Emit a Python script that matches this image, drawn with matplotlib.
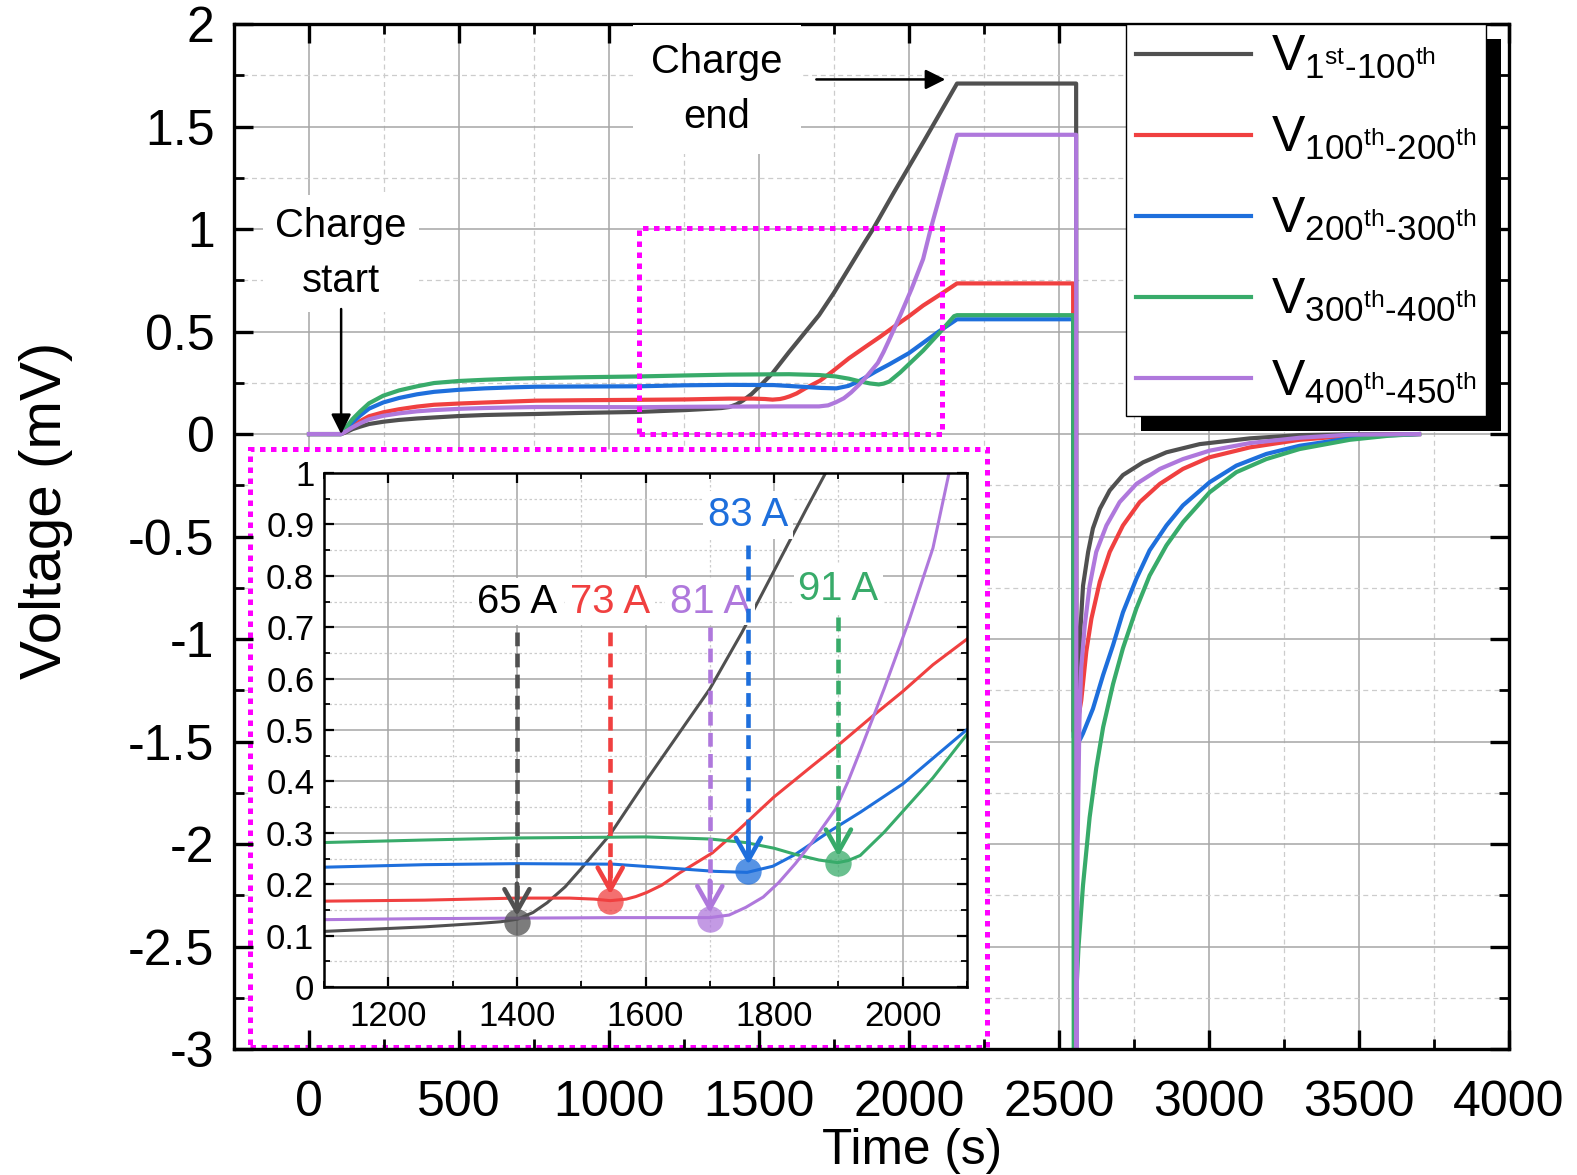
import numpy as np
import matplotlib
matplotlib.use('Agg')
import matplotlib.pyplot as plt
from matplotlib import font_manager
from matplotlib.patches import Rectangle
from matplotlib.ticker import MultipleLocator, FuncFormatter

plt.rcParams['font.family'] = ['Liberation Sans', 'DejaVu Sans']
plt.rcParams['axes.unicode_minus'] = False
plt.rcParams['mathtext.fontset'] = 'custom'
plt.rcParams['mathtext.rm'] = 'Liberation Sans'
plt.rcParams['mathtext.it'] = 'Liberation Sans'
plt.rcParams['mathtext.bf'] = 'Liberation Sans'
plt.rcParams['mathtext.default'] = 'regular'

_names = {f.name for f in font_manager.fontManager.ttflist}
if 'Liberation Sans Narrow' in _names:
    NARROW = ['Liberation Sans Narrow', 'DejaVu Sans']
    NS = 1.0
    LS = 1.45
else:
    NARROW = ['Liberation Sans', 'DejaVu Sans']
    NS = 0.85
    LS = 1.55

# ---------------- data ----------------
t_black = [0, 107, 125, 145, 170, 200, 247, 300, 360, 417, 500, 587, 680, 757, 900, 1097, 1256, 1344, 1375,
           1401, 1425, 1447, 1475, 1499, 1520, 1545, 1600, 1650, 1700, 1750, 1800, 1850, 1880, 1950, 2050,
           2160, 2557, 2558, 2565, 2571, 2580, 2597, 2613, 2636, 2669, 2713, 2780, 2858, 2969, 3136, 3302,
           3469, 3700]
v_black = [0, 0, 0.01, 0.024, 0.036, 0.049, 0.06, 0.069, 0.076, 0.081, 0.088, 0.093, 0.096, 0.098, 0.103,
           0.108, 0.117, 0.124, 0.127, 0.132, 0.145, 0.164, 0.195, 0.229, 0.26, 0.297, 0.40, 0.49, 0.58,
           0.69, 0.81, 0.93, 1.0, 1.18, 1.43, 1.71, 1.71, -1.30, -1.15, -0.96, -0.74, -0.575, -0.46,
           -0.365, -0.275, -0.20, -0.138, -0.089, -0.049, -0.021, -0.005, -0.001, 0]

t_red = [0, 107, 125, 145, 170, 200, 247, 300, 360, 417, 500, 587, 680, 757, 900, 1097, 1256, 1400, 1482,
         1520, 1545, 1570, 1585, 1602, 1625, 1653, 1704, 1745, 1800, 1859, 1904, 1956, 2000, 2047, 2099,
         2160, 2547, 2548, 2560, 2574, 2591, 2608, 2636, 2669, 2713, 2769, 2836, 2913, 3002, 3136, 3302,
         3469, 3700]
v_red = [0, 0, 0.018, 0.04, 0.063, 0.087, 0.106, 0.121, 0.134, 0.143, 0.149, 0.154, 0.159, 0.163, 0.165,
         0.167, 0.169, 0.173, 0.173, 0.171, 0.168, 0.171, 0.176, 0.184, 0.198, 0.222, 0.261, 0.306, 0.37,
         0.43, 0.475, 0.53, 0.575, 0.627, 0.676, 0.735, 0.735, -1.45, -1.42, -1.30, -1.06, -0.90, -0.72,
         -0.575, -0.446, -0.332, -0.243, -0.17, -0.113, -0.065, -0.028, -0.008, 0]

t_blue = [0, 107, 125, 145, 170, 200, 247, 300, 360, 417, 500, 587, 680, 757, 900, 1097, 1256, 1400, 1550,
          1653, 1708, 1758, 1798, 1833, 1889, 1934, 2000, 2047, 2099, 2160, 2547, 2549, 2570, 2580, 2613,
          2647, 2680, 2713, 2758, 2802, 2858, 2913, 3002, 3091, 3191, 3302, 3469, 3600, 3700]
v_blue = [0, 0, 0.027, 0.057, 0.09, 0.124, 0.154, 0.176, 0.194, 0.206, 0.216, 0.223, 0.228, 0.231, 0.232,
          0.233, 0.238, 0.24, 0.239, 0.23, 0.225, 0.223, 0.235, 0.258, 0.305, 0.34, 0.395, 0.445, 0.50,
          0.56, 0.56, -1.48, -1.49, -1.46, -1.34, -1.175, -1.03, -0.87, -0.705, -0.567, -0.446, -0.348,
          -0.235, -0.154, -0.097, -0.057, -0.021, -0.006, 0]

t_green = [0, 107, 125, 145, 170, 200, 247, 300, 360, 417, 500, 587, 680, 757, 900, 1097, 1256, 1400, 1600,
           1700, 1756, 1800, 1833, 1870, 1899, 1915, 1934, 1971, 2009, 2047, 2099, 2150, 2160, 2547, 2549,
           2565, 2580, 2602, 2624, 2647, 2680, 2713, 2758, 2802, 2858, 2913, 3002, 3091, 3191, 3302, 3469,
           3600, 3700]
v_green = [0, 0, 0.035, 0.073, 0.11, 0.15, 0.187, 0.213, 0.233, 0.249, 0.259, 0.265, 0.27, 0.273, 0.277,
           0.281, 0.286, 0.29, 0.292, 0.288, 0.281, 0.27, 0.258, 0.247, 0.242, 0.246, 0.256, 0.301, 0.354,
           0.407, 0.49, 0.575, 0.58, 0.58, -3.0, -2.5, -2.2, -1.87, -1.63, -1.43, -1.22, -1.045, -0.85,
           -0.69, -0.543, -0.43, -0.284, -0.186, -0.122, -0.073, -0.028, -0.008, 0]

t_purple = [0, 107, 125, 145, 170, 200, 247, 300, 360, 417, 500, 587, 680, 757, 900, 1097, 1256, 1400, 1558,
            1700, 1730, 1756, 1783, 1807, 1833, 1858, 1896, 1915, 1934, 1971, 2009, 2047, 2072, 2110, 2160,
            2557, 2558, 2562, 2568, 2574, 2586, 2602, 2624, 2658, 2702, 2758, 2836, 2913, 3002, 3136, 3302,
            3469, 3700]
v_purple = [0, 0, 0.015, 0.033, 0.052, 0.072, 0.089, 0.101, 0.111, 0.117, 0.123, 0.127, 0.13, 0.132, 0.132,
            0.131, 0.133, 0.134, 0.135, 0.135, 0.14, 0.155, 0.175, 0.203, 0.24, 0.28, 0.347, 0.40, 0.46,
            0.58, 0.71, 0.854, 1.0, 1.2, 1.46, 1.46, -3.05, -2.0, -1.4, -1.14, -0.93, -0.74, -0.575, -0.446,
            -0.332, -0.243, -0.17, -0.122, -0.081, -0.044, -0.018, -0.003, 0]

series_labels = [r'V$_{1^{st}\text{-}100^{th}}$', r'V$_{100^{th}\text{-}200^{th}}$',
                 r'V$_{200^{th}\text{-}300^{th}}$', r'V$_{300^{th}\text{-}400^{th}}$',
                 r'V$_{400^{th}\text{-}450^{th}}$']
colors = ['#505050', '#F04040', '#1E6FDC', '#38AB6A', '#AF78DC']

# onset annotations (inset)
ann_labels = ['65 A', '73 A', '81 A', '83 A', '91 A']
ann_t = [1400, 1545, 1700, 1760, 1900]
ann_v = [0.126, 0.168, 0.132, 0.226, 0.242]
ann_text_v = [0.75, 0.75, 0.75, 0.918, 0.775]
ann_shaft_top = [0.69, 0.69, 0.70, 0.86, 0.72]
ann_text_colors = ['black', '#F04040', '#AF78DC', '#1E6FDC', '#38AB6A']
ann_line_colors = ['#505050', '#F04040', '#AF78DC', '#1E6FDC', '#38AB6A']

xs = [t_black, t_red, t_blue, t_green, t_purple]
ys = [v_black, v_red, v_blue, v_green, v_purple]

MAG = '#FF00FF'

# ---------------- figure ----------------
fig = plt.figure(figsize=(15.77, 11.75), dpi=100)
ax = fig.add_axes([0.1484, 0.1072, 0.8085, 0.8723])
ax.set_xlim(-250, 4000)
ax.set_ylim(-3, 2)
ax.xaxis.set_major_locator(MultipleLocator(500))
ax.xaxis.set_minor_locator(MultipleLocator(250))
ax.yaxis.set_major_locator(MultipleLocator(0.5))
ax.yaxis.set_minor_locator(MultipleLocator(0.25))
fmt = FuncFormatter(lambda v, p: '%g' % v)
ax.xaxis.set_major_formatter(fmt)
ax.yaxis.set_major_formatter(fmt)
ax.set_axisbelow(False)

# manual grid (so the white inset panel can hide it while ticks stay on top)
for xv in np.arange(0, 4000, 500):
    ax.axvline(xv, color='#a6a6a6', lw=1.1, zorder=0.5)
for xv in np.arange(250, 4000, 500):
    ax.axvline(xv, color='#cccccc', lw=0.9, ls=(0, (4, 3)), zorder=0.5)
for yv in np.arange(-2.5, 2.0, 0.5):
    ax.axhline(yv, color='#a6a6a6', lw=1.1, zorder=0.5)
for yv in np.arange(-2.75, 2.0, 0.5):
    ax.axhline(yv, color='#cccccc', lw=0.9, ls=(0, (4, 3)), zorder=0.5)

lines = []
for x, y, c, lab in zip(xs, ys, colors, series_labels):
    ln, = ax.plot(x, y, color=c, lw=3.0, label=lab, zorder=2, solid_joinstyle='round')
    lines.append(ln)

for s in ax.spines.values():
    s.set_linewidth(2.4)
ax.tick_params(which='major', direction='in', length=14, width=2.4, top=True, right=True,
               labelsize=36, pad=14)
ax.tick_params(axis='x', which='major', pad=22)
ax.tick_params(which='minor', direction='in', length=7, width=2.0, top=True, right=True)

ax.set_xlabel('Time (s)', fontsize=42 * NS, family=NARROW)
ax.xaxis.set_label_coords(0.532, -0.077)
ax.set_ylabel('Voltage (mV)', fontsize=42)
ax.yaxis.set_label_coords(-0.126, 0.526)

# small magenta box marking the zoomed region
ax.add_patch(Rectangle((1100, 0), 1010, 1.003, fill=False, edgecolor=MAG, lw=3.6,
                       ls=(0, (1.1, 1.1)), zorder=4))
# big magenta panel holding the inset
ax.add_patch(Rectangle((0.0129, 0.002), 0.5777, 0.5834, transform=ax.transAxes, facecolor='white',
                       edgecolor=MAG, lw=3.6, ls=(0, (1.1, 1.1)), zorder=1))

# Charge start / end annotations
ax.text(107, 0.88, 'Charge\nstart', ha='center', va='center', fontsize=34 * NS, family=NARROW,
        linespacing=LS, zorder=3,
        bbox=dict(boxstyle='square,pad=0.3', facecolor='white', edgecolor='none'))
ax.annotate('', xy=(107, 0.0), xytext=(107, 0.61),
            arrowprops=dict(arrowstyle='-|>', color='black', lw=1.8, mutation_scale=30,
                            shrinkA=0, shrinkB=0), zorder=3)
ax.text(1360, 1.68, 'Charge\nend', ha='center', va='center', fontsize=34 * NS, family=NARROW,
        linespacing=LS, zorder=3,
        bbox=dict(boxstyle='square,pad=0.45', facecolor='white', edgecolor='none'))
ax.annotate('', xy=(2121, 1.73), xytext=(1691, 1.73),
            arrowprops=dict(arrowstyle='-|>', color='black', lw=1.8, mutation_scale=30,
                            shrinkA=0, shrinkB=0), zorder=3)

leg = ax.legend(handles=lines, loc='upper right', bbox_to_anchor=(0.982, 1.0), borderaxespad=0,
                fontsize=36, handlelength=2.3, handletextpad=0.4, borderpad=0.2, labelspacing=0.68,
                frameon=True, fancybox=False, framealpha=1, edgecolor='black')
leg.get_frame().set_linewidth(1.0)
leg.set_zorder(6)

# ---------------- inset ----------------
axi = fig.add_axes([0.2055, 0.16, 0.4077, 0.4374])
axi.set_xlim(1100, 2100)
axi.set_ylim(0, 1)
axi.xaxis.set_major_locator(MultipleLocator(200))
axi.xaxis.set_minor_locator(MultipleLocator(100))
axi.yaxis.set_major_locator(MultipleLocator(0.1))
axi.yaxis.set_minor_locator(MultipleLocator(0.05))
axi.xaxis.set_major_formatter(fmt)
axi.yaxis.set_major_formatter(fmt)
axi.set_axisbelow(True)
axi.grid(which='major', color='#a6a6a6', lw=1.1)
axi.grid(which='minor', color='#cccccc', lw=0.9, ls=(0, (2, 2)))
for s in axi.spines.values():
    s.set_linewidth(1.8)
axi.tick_params(which='major', direction='in', length=7, width=1.6, top=True, right=True,
                labelsize=25, pad=7)
axi.tick_params(axis='x', which='major', pad=9)
axi.tick_params(which='minor', direction='in', length=4, width=1.3, top=True, right=True)

for x, y, c in zip(xs, ys, colors):
    axi.plot(x, y, color=c, lw=2.2, zorder=2)

for lab, t, v, tv, top, tc, lc in zip(ann_labels, ann_t, ann_v, ann_text_v, ann_shaft_top,
                                      ann_text_colors, ann_line_colors):
    axi.plot([t], [v], 'o', ms=19, color=lc, alpha=0.75, mec='none', zorder=3)
    axi.plot([t, t], [top, v + 0.03], color=lc, lw=3.3, dashes=(3, 1.6), zorder=5)
    axi.annotate('', xy=(t, v + 0.012), xytext=(t, v + 0.075),
                 arrowprops=dict(arrowstyle='->,head_length=0.8,head_width=0.45', color=lc, lw=3.3,
                                 mutation_scale=20, shrinkA=0, shrinkB=0, capstyle='round',
                                 joinstyle='round'), zorder=5)
    axi.text(t, tv, lab, color=tc, ha='center', va='center', fontsize=34 * NS, family=NARROW,
             zorder=4, bbox=dict(boxstyle='square,pad=0.12', facecolor='white', edgecolor='none'))

# legend shadow (Origin style, solid black offset box)
fig.canvas.draw()
bb = leg.get_window_extent()
inv = ax.transAxes.inverted()
(x0, y0), (x1, y1) = inv.transform([[bb.x0, bb.y0], [bb.x1, bb.y1]])
axbb = ax.get_window_extent()
dx = 15 / axbb.width
dy = 15 / axbb.height
ax.add_patch(Rectangle((x0 + dx, y0 - dy), x1 - x0, y1 - y0, transform=ax.transAxes,
                       facecolor='black', edgecolor='none', zorder=5.5, clip_on=False))

fig.savefig('out.png', dpi=100)
